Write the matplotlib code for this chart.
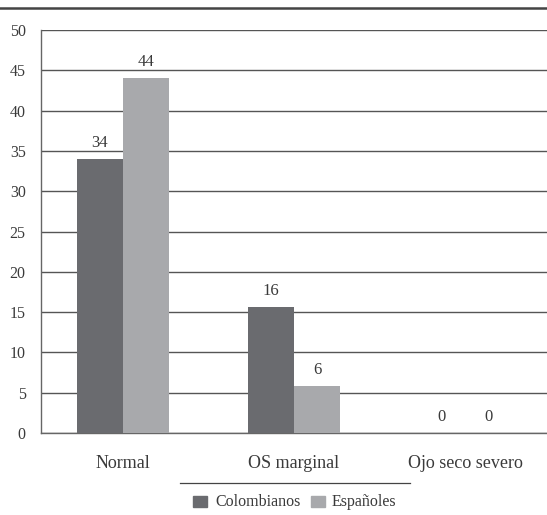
import matplotlib
matplotlib.use('Agg')
import matplotlib.pyplot as plt
from matplotlib.lines import Line2D
from matplotlib.patches import Rectangle
import numpy as np

plt.rcParams['font.family'] = ['Liberation Serif', 'DejaVu Serif']

categories = ['Normal', 'OS marginal', 'Ojo seco severo']
colombianos = [34, 15.6, 0]
espanoles = [44, 5.8, 0]
colombianos_labels = ['34', '16', '0']
espanoles_labels = ['44', '6', '0']
yticks = [0, 5, 10, 15, 20, 25, 30, 35, 40, 45, 50]

dark = '#6a6b6f'
light = '#a8a9ac'
text_col = '#3a3a3a'

fig = plt.figure(figsize=(5.47, 5.15), dpi=100)
W, H = 547, 515
ax = fig.add_axes([41 / W, (H - 433) / H, (W - 41) / W, (433 - 30) / H])

x = np.arange(len(categories))
bw = 0.27
b1 = ax.bar(x - bw / 2, colombianos, bw, color=dark, zorder=3)
b2 = ax.bar(x + bw / 2, espanoles, bw, color=light, zorder=3)

for bars, labels in ((b1, colombianos_labels), (b2, espanoles_labels)):
    for rect, lab in zip(bars, labels):
        ax.annotate(lab, (rect.get_x() + rect.get_width() / 2, rect.get_height()),
                    xytext=(0, 6), textcoords='offset points', ha='center', va='bottom',
                    fontsize=12, color=text_col)

ax.set_xlim(-0.48, 2.48)
ax.set_ylim(0, 50)
ax.set_yticks(yticks)
ax.set_xticks(x)
ax.set_xticklabels(categories)
ax.tick_params(axis='y', length=0, pad=11, labelsize=11.5, labelcolor=text_col)
ax.tick_params(axis='x', length=0, pad=16, labelsize=13, labelcolor=text_col)
ax.yaxis.grid(True, color='#555555', linewidth=1.0, zorder=0)
ax.spines['right'].set_visible(False)
ax.spines['top'].set_visible(False)
ax.spines['left'].set_color('#666666')
ax.spines['bottom'].set_color('#666666')
ax.spines['left'].set_linewidth(1.0)
ax.spines['bottom'].set_linewidth(1.0)

# rule across the top of the figure
fig.add_artist(Line2D([0, 1], [(H - 8) / H, (H - 8) / H], color='#444444', linewidth=1.8))

# legend: rule, swatches and names
fig.add_artist(Line2D([180 / W, 410 / W], [(H - 483) / H, (H - 483) / H], color='#444444', linewidth=0.9))
fig.add_artist(Rectangle((193 / W, (H - 507) / H), 14 / W, 11 / H, color=dark, transform=fig.transFigure))
fig.text(215 / W, (H - 502) / H, 'Colombianos', fontsize=11.5, color=text_col, va='center', ha='left')
fig.add_artist(Rectangle((311 / W, (H - 507) / H), 14 / W, 11 / H, color=light, transform=fig.transFigure))
fig.text(332 / W, (H - 502) / H, 'Españoles', fontsize=11.5, color=text_col, va='center', ha='left')

fig.savefig('out.png', dpi=100, facecolor='white')
